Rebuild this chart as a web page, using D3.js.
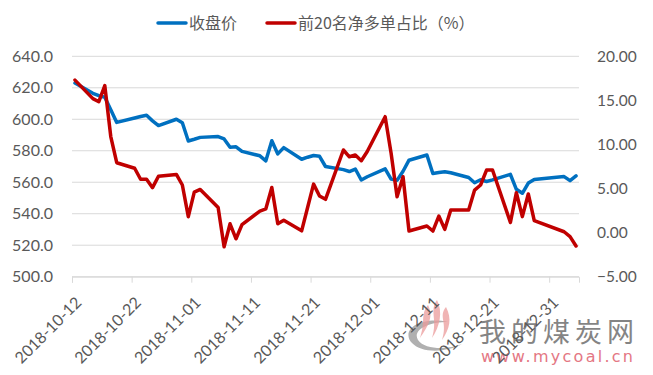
<!DOCTYPE html>
<html><head><meta charset="utf-8">
<script src="https://cdn.jsdelivr.net/npm/d3@7"></script>
<style>
html,body{margin:0;padding:0;background:#fff;}
svg{display:block;font-family:Lato,"Noto Sans CJK SC",sans-serif;}
</style></head>
<body>
<svg id="c" width="653" height="375"></svg>
<script>
const dates = ["2018-10-12","2018-10-15","2018-10-16","2018-10-17","2018-10-18","2018-10-19",
"2018-10-22","2018-10-23","2018-10-24","2018-10-25","2018-10-26",
"2018-10-29","2018-10-30","2018-10-31","2018-11-01","2018-11-02",
"2018-11-05","2018-11-06","2018-11-07","2018-11-08","2018-11-09",
"2018-11-12","2018-11-13","2018-11-14","2018-11-15","2018-11-16",
"2018-11-19","2018-11-20","2018-11-21","2018-11-22","2018-11-23",
"2018-11-26","2018-11-27","2018-11-28","2018-11-29","2018-11-30",
"2018-12-03","2018-12-04","2018-12-05","2018-12-06","2018-12-07",
"2018-12-10","2018-12-11","2018-12-12","2018-12-13","2018-12-14",
"2018-12-17","2018-12-18","2018-12-19","2018-12-20","2018-12-21",
"2018-12-24","2018-12-25","2018-12-26","2018-12-27","2018-12-28",
"2019-01-02","2019-01-03","2019-01-04"];
const closePrice = [623,616.5,615,614,606,598,
600.8,601.8,602.5,599,596,
600,597.8,586.2,587.3,588.5,
589,587.5,582.2,582.5,579.6,
576.8,573.6,586.4,578,582,
574.6,575.9,577,576.5,570,
568,566.8,568.4,561.4,563.5,
568.5,562,561.2,567,574,
577.3,565.5,566.2,566.7,566,
563,559.7,561.6,560.5,561.5,
565,555.5,553,559.5,561.8,
563.6,561,564];
const netLongPct = [17.3,15.2,14.85,16.67,10.9,7.93,
7.3,6.05,6.05,5.1,6.4,
6.6,5.4,1.81,4.6,4.9,
2.85,-1.6,1.0,-0.7,0.9,
2.45,2.7,5.12,1.0,1.4,
0.2,2.85,5.5,4.15,3.78,
9.37,8.6,8.8,8.16,9.2,
13.15,9.0,4.07,6.34,0.18,
0.75,0.18,1.88,0.37,2.57,
2.57,4.83,5.4,7.1,7.1,
1.15,4.53,1.81,4.38,1.35,
0.1,-0.46,-1.52];
const xTickLabels = ["2018-10-12","2018-10-22","2018-11-01","2018-11-11","2018-11-21","2018-12-01","2018-12-11","2018-12-21","2018-12-31"];
const leftTicks = [500,520,540,560,580,600,620,640];
const rightTicks = [-5,0,5,10,15,20];
const seriesNames = ["收盘价","前20名净多单占比（%）"];
const seriesColors = ["#0070C0","#C00000"];

const parse = s => { const [y,m,d] = s.split("-").map(Number); return new Date(y, m-1, d); };
const mid = s => d3.timeHour.offset(parse(s), 12);

const svg = d3.select("#c");
const L = 72, R = 579, T = 56.3, B = 276.7;
const x = d3.scaleTime().domain([parse("2018-10-12"), parse("2019-01-05")]).range([L, R]);
const yL = d3.scaleLinear().domain([500,640]).range([B, T]);
const yR = d3.scaleLinear().domain([-5,20]).range([B, T]);
const textCol = "#595959";

// watermark
const wm = svg.append("g").attr("opacity",0.85);
wm.append("path").attr("d","M448,322 C420,316 400,330 412,343 C422,354 448,352 462,344 C448,350 425,350 418,340 C412,330 428,322 448,322 Z")
  .attr("fill","#8c8c8c").attr("opacity",0.8);
[[428,305,420,330],[437,300,432,330],[446,307,442,332]].forEach(([x1,y1,x2,y2])=>{
  wm.append("path").attr("d",`M${x1},${y1} C${x1-8},${y1+10} ${x2+6},${y2-10} ${x2},${y2+8} C${x2+8},${y2-4} ${x1+6},${y1+12} ${x1},${y1} Z`)
    .attr("fill","#e88a8a").attr("opacity",0.75);
});
wm.append("text").attr("x",479).attr("y",342).attr("font-size",27).attr("fill","#6f6f6f")
  .attr("font-family","'Noto Sans CJK SC',sans-serif").attr("textLength",155).text("我的煤炭网");
wm.append("text").attr("x",481).attr("y",362).attr("font-size",16).attr("fill","#e0606e")
  .attr("font-family","'DejaVu Sans',sans-serif").attr("textLength",152).text("www.mycoal.cn");

// gridlines
svg.append("g").selectAll("line").data(leftTicks).join("line")
  .attr("x1",L).attr("x2",R).attr("y1",d=>yL(d)).attr("y2",d=>yL(d))
  .attr("stroke","#d9d9d9").attr("stroke-width",1);

// x axis
const xAxis = d3.axisBottom(x).tickValues(xTickLabels.map(parse)).tickSize(6).tickFormat(d3.timeFormat("%Y-%m-%d"));
const gx = svg.append("g").attr("transform",`translate(0,${B})`).call(xAxis);
gx.select(".domain").attr("stroke","#d9d9d9");
gx.selectAll(".tick line").attr("stroke","#d9d9d9");
gx.selectAll(".tick text").attr("fill",textCol).attr("font-size",16).attr("font-family","Lato,sans-serif")
  .attr("text-anchor","end").attr("dy",null).attr("y",0)
  .attr("transform","translate(10,27) rotate(-45)");

// left axis
const gl = svg.append("g").attr("transform",`translate(${L},0)`)
  .call(d3.axisLeft(yL).tickValues(leftTicks).tickSize(0).tickPadding(19).tickFormat(d3.format(".1f")));
gl.select(".domain").remove();
gl.selectAll("text").attr("fill",textCol).attr("font-size",16).attr("font-family","Lato,sans-serif");

// right axis
const gr = svg.append("g").attr("transform",`translate(${R},0)`)
  .call(d3.axisRight(yR).tickValues(rightTicks).tickSize(0).tickPadding(18).tickFormat(d3.format(".2f")));
gr.select(".domain").remove();
gr.selectAll("text").attr("fill",textCol).attr("font-size",15.5).attr("font-family","Lato,sans-serif");

// lines
const lineL = d3.line().x((d,i)=>x(mid(dates[i]))).y(d=>yL(d));
const lineR = d3.line().x((d,i)=>x(mid(dates[i]))).y(d=>yR(d));
svg.append("path").datum(closePrice).attr("d",lineL).attr("fill","none")
  .attr("stroke",seriesColors[0]).attr("stroke-width",3.5).attr("stroke-linejoin","round").attr("stroke-linecap","round");
svg.append("path").datum(netLongPct).attr("d",lineR).attr("fill","none")
  .attr("stroke",seriesColors[1]).attr("stroke-width",3.5).attr("stroke-linejoin","round").attr("stroke-linecap","round");

// legend
const legX = [158, 267];
const lg = svg.append("g");
seriesNames.forEach((n,i)=>{
  lg.append("line").attr("x1",legX[i]).attr("x2",legX[i]+28).attr("y1",23).attr("y2",23)
    .attr("stroke",seriesColors[i]).attr("stroke-width",3.5).attr("stroke-linecap","round");
  lg.append("text").attr("x",legX[i]+31).attr("y",29).attr("font-size",16).attr("fill",textCol)
    .attr("font-family","'Noto Sans CJK SC',sans-serif").text(n);
});
</script>
</body></html>
